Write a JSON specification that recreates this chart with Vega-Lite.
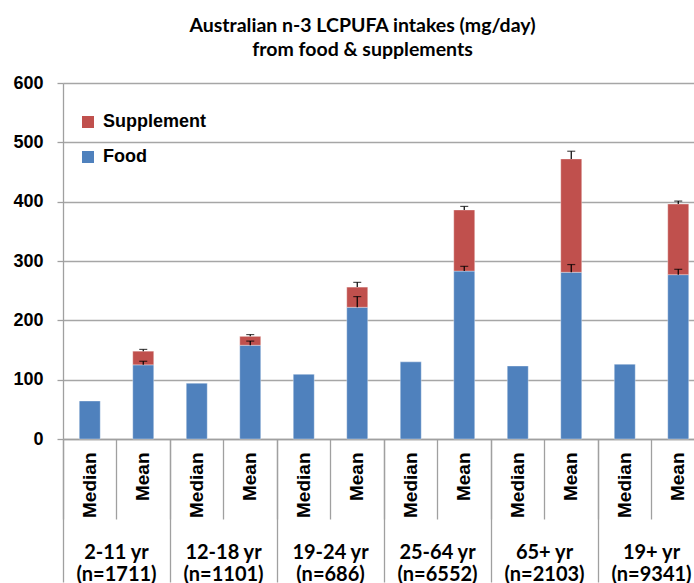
{
  "$schema": "https://vega.github.io/schema/vega-lite/v6.json",
  "autosize": {"type": "none"},
  "width": 631,
  "height": 356,
  "padding": {"left": 63, "top": 83, "right": 0, "bottom": 144},
  "background": "white",
  "title": {
    "text": ["Australian n-3 LCPUFA intakes (mg/day)", "from food & supplements"],
    "font": "Lato",
    "fontSize": 19.5,
    "fontWeight": "bold",
    "color": "#000000",
    "lineHeight": 24,
    "anchor": "middle",
    "dx": -16,
    "offset": 14
  },
  "config": {
    "view": {"stroke": null},
    "axis": {"labelFont": "Liberation Sans", "labelFontWeight": "bold", "labelFontSize": 18, "labelColor": "#000000", "domainColor": "#a0a0a0", "tickColor": "#a0a0a0", "gridColor": "#a6a6a6", "domainWidth": 1.3, "tickWidth": 1.3, "gridWidth": 1.3, "title": null}
  },
  "datasets": {
    "bars": [
      {"cat": "2-11 yr;(n=1711);Median", "series": "Food", "value": 64},
      {"cat": "2-11 yr;(n=1711);Mean", "series": "Food", "value": 125},
      {"cat": "2-11 yr;(n=1711);Mean", "series": "Supplement", "value": 23},
      {"cat": "12-18 yr;(n=1101);Median", "series": "Food", "value": 94},
      {"cat": "12-18 yr;(n=1101);Mean", "series": "Food", "value": 158},
      {"cat": "12-18 yr;(n=1101);Mean", "series": "Supplement", "value": 15},
      {"cat": "19-24 yr;(n=686);Median", "series": "Food", "value": 109},
      {"cat": "19-24 yr;(n=686);Mean", "series": "Food", "value": 222},
      {"cat": "19-24 yr;(n=686);Mean", "series": "Supplement", "value": 34},
      {"cat": "25-64 yr;(n=6552);Median", "series": "Food", "value": 130},
      {"cat": "25-64 yr;(n=6552);Mean", "series": "Food", "value": 283},
      {"cat": "25-64 yr;(n=6552);Mean", "series": "Supplement", "value": 103},
      {"cat": "65+ yr;(n=2103);Median", "series": "Food", "value": 123},
      {"cat": "65+ yr;(n=2103);Mean", "series": "Food", "value": 281},
      {"cat": "65+ yr;(n=2103);Mean", "series": "Supplement", "value": 191},
      {"cat": "19+ yr;(n=9341);Median", "series": "Food", "value": 126},
      {"cat": "19+ yr;(n=9341);Mean", "series": "Food", "value": 277},
      {"cat": "19+ yr;(n=9341);Mean", "series": "Supplement", "value": 119}
    ],
    "err": [
      {"cat": "2-11 yr;(n=1711);Mean", "series": "Food", "lo": 125, "hi": 131},
      {"cat": "2-11 yr;(n=1711);Mean", "series": "Supplement", "lo": 148, "hi": 151},
      {"cat": "12-18 yr;(n=1101);Mean", "series": "Food", "lo": 158, "hi": 165},
      {"cat": "12-18 yr;(n=1101);Mean", "series": "Supplement", "lo": 173, "hi": 176},
      {"cat": "19-24 yr;(n=686);Mean", "series": "Food", "lo": 222, "hi": 240},
      {"cat": "19-24 yr;(n=686);Mean", "series": "Supplement", "lo": 256, "hi": 264},
      {"cat": "25-64 yr;(n=6552);Mean", "series": "Food", "lo": 283, "hi": 291},
      {"cat": "25-64 yr;(n=6552);Mean", "series": "Supplement", "lo": 386, "hi": 392},
      {"cat": "65+ yr;(n=2103);Mean", "series": "Food", "lo": 281, "hi": 294},
      {"cat": "65+ yr;(n=2103);Mean", "series": "Supplement", "lo": 472, "hi": 485},
      {"cat": "19+ yr;(n=9341);Mean", "series": "Food", "lo": 277, "hi": 286},
      {"cat": "19+ yr;(n=9341);Mean", "series": "Supplement", "lo": 396, "hi": 401}
    ]
  },
  "resolve": {"scale": {"x": "shared"}, "axis": {"x": "independent"}},
  "layer": [
    {
      "data": {"name": "bars"},
      "mark": {"type": "bar", "width": {"band": 0.3925}, "stroke": "#ffffff", "strokeOpacity": 0.35, "strokeWidth": 1},
      "encoding": {
        "x": {
          "field": "cat", "type": "nominal", "sort": null,
          "scale": {"domain": ["2-11 yr;(n=1711);Median", "2-11 yr;(n=1711);Mean", "12-18 yr;(n=1101);Median", "12-18 yr;(n=1101);Mean", "19-24 yr;(n=686);Median", "19-24 yr;(n=686);Mean", "25-64 yr;(n=6552);Median", "25-64 yr;(n=6552);Mean", "65+ yr;(n=2103);Median", "65+ yr;(n=2103);Mean", "19+ yr;(n=9341);Median", "19+ yr;(n=9341);Mean"], "range": [0, 642], "paddingInner": 0, "paddingOuter": 0},
          "axis": {"orient": "bottom", "ticks": false, "domain": true, "labelAngle": -90, "labelAlign": "right", "labelBaseline": "middle", "labelPadding": 13, "labelOverlap": false, "labelFontSize": 19, "labelExpr": "split(datum.value, ';')[2]"}
        },
        "y": {
          "field": "value", "type": "quantitative", "stack": "zero",
          "scale": {"domain": [0, 600], "nice": false},
          "axis": {"values": [0, 100, 200, 300, 400, 500, 600], "grid": true, "tickSize": 6, "labelPadding": 14, "domain": true}
        },
        "color": {
          "field": "series", "type": "nominal",
          "scale": {"domain": ["Supplement", "Food"], "range": ["#c0504d", "#4f81bd"]},
          "legend": {"orient": "none", "legendX": 16, "legendY": 30, "title": null, "symbolType": "square", "symbolSize": 144, "symbolStrokeWidth": 0, "symbolOpacity": 1, "labelFont": "Liberation Sans", "labelFontWeight": "bold", "labelFontSize": 18, "labelColor": "#000000", "labelOffset": 6, "rowPadding": 17, "padding": 0}
        },
        "order": {"field": "series", "sort": "ascending"}
      }
    },
    {
      "data": {"name": "err"},
      "mark": {"type": "rule", "color": "#000000", "strokeWidth": 1.2},
      "encoding": {
        "x": {
          "field": "cat", "type": "nominal", "sort": null,
          "axis": {"orient": "bottom", "bandPosition": 0, "ticks": true, "tickSize": 80, "labels": false, "domain": false}
        },
        "y": {"field": "lo", "type": "quantitative"},
        "y2": {"field": "hi"}
      }
    },
    {
      "data": {"name": "err"},
      "mark": {"type": "tick", "color": "#000000", "size": 8, "thickness": 1.2},
      "encoding": {
        "x": {
          "field": "cat", "type": "nominal", "sort": null,
          "axis": {"orient": "bottom", "bandPosition": 0, "values": ["2-11 yr;(n=1711);Median", "12-18 yr;(n=1101);Median", "19-24 yr;(n=686);Median", "25-64 yr;(n=6552);Median", "65+ yr;(n=2103);Median", "19+ yr;(n=9341);Median"], "ticks": true, "tickSize": 143, "domain": false, "labelAngle": 0, "labelAlign": "center", "labelBaseline": "top", "labelOffset": 26.75, "labelPadding": -40, "labelOverlap": false, "labelFont": "Lato", "labelFontWeight": "bold", "labelFontSize": 20, "labelLineHeight": 22, "labelExpr": "[split(datum.value, ';')[0], split(datum.value, ';')[1]]"}
        },
        "y": {"field": "hi", "type": "quantitative"}
      }
    }
  ]
}
